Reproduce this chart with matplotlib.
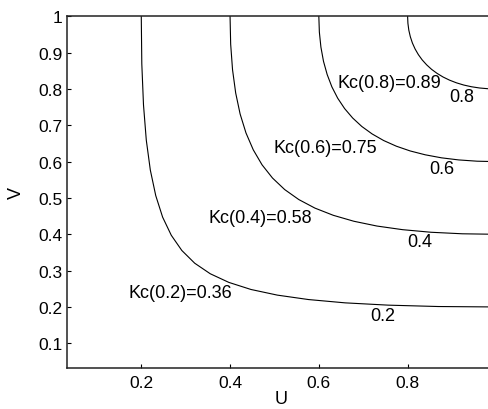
import matplotlib.pyplot as plt

plt.rcParams['font.family'] = ['Liberation Sans', 'DejaVu Sans']

# level curves C(u, v) = t
levels = [0.2, 0.4, 0.6, 0.8]
kc_values = [0.36, 0.58, 0.75, 0.89]

u_02 = [0.2000, 0.2012, 0.2050, 0.2113, 0.2204, 0.2326, 0.2481, 0.2676, 0.2914, 0.3204,
        0.3554, 0.3973, 0.4472, 0.5065, 0.5767, 0.6593, 0.7562, 0.8691, 1.0000]
v_02 = [1.0000, 0.8691, 0.7562, 0.6593, 0.5767, 0.5065, 0.4472, 0.3973, 0.3554, 0.3204,
        0.2914, 0.2676, 0.2481, 0.2326, 0.2204, 0.2113, 0.2050, 0.2012, 0.2000]

u_04 = [0.4000, 0.4014, 0.4056, 0.4127, 0.4227, 0.4359, 0.4523, 0.4721, 0.4956, 0.5231,
        0.5549, 0.5912, 0.6325, 0.6789, 0.7310, 0.7889, 0.8529, 0.9232, 1.0000]
v_04 = [1.0000, 0.9232, 0.8529, 0.7889, 0.7310, 0.6789, 0.6325, 0.5912, 0.5549, 0.5231,
        0.4956, 0.4721, 0.4523, 0.4359, 0.4227, 0.4127, 0.4056, 0.4014, 0.4000]

u_06 = [0.6000, 0.6012, 0.6047, 0.6105, 0.6188, 0.6294, 0.6425, 0.6581, 0.6762, 0.6968,
        0.7201, 0.7460, 0.7746, 0.8058, 0.8397, 0.8762, 0.9151, 0.9565, 1.0000]
v_06 = [1.0000, 0.9565, 0.9151, 0.8762, 0.8397, 0.8058, 0.7746, 0.7460, 0.7201, 0.6968,
        0.6762, 0.6581, 0.6425, 0.6294, 0.6188, 0.6105, 0.6047, 0.6012, 0.6000]

u_08 = [0.8000, 0.8007, 0.8027, 0.8061, 0.8108, 0.8169, 0.8243, 0.8329, 0.8429, 0.8540,
        0.8664, 0.8799, 0.8944, 0.9100, 0.9265, 0.9439, 0.9620, 0.9807, 1.0000]
v_08 = [1.0000, 0.9807, 0.9620, 0.9439, 0.9265, 0.9100, 0.8944, 0.8799, 0.8664, 0.8540,
        0.8429, 0.8329, 0.8243, 0.8169, 0.8108, 0.8061, 0.8027, 0.8007, 0.8000]

x_ticks = [0.2, 0.4, 0.6, 0.8]
x_tick_labels = ['0.2', '0.4', '0.6', '0.8']
y_ticks = [0.1, 0.2, 0.3, 0.4, 0.5, 0.6, 0.7, 0.8, 0.9, 1.0]
y_tick_labels = ['0.1', '0.2', '0.3', '0.4', '0.5', '0.6', '0.7', '0.8', '0.9', '1']

# where the labels sit (data coords)
level_label_pos = [(0.743, 0.176), (0.827, 0.381), (0.876, 0.580), (0.923, 0.780)]
kc_label_pos = [(0.287, 0.240), (0.468, 0.445), (0.614, 0.639), (0.759, 0.818)]

fig = plt.figure(figsize=(4.89, 4.10), dpi=100)
# the right side of the axes runs past the image edge, as in the reference crop
ax = fig.add_axes([0.1364, 0.1, 0.8787, 0.8578])

curves = [(u_02, v_02), (u_04, v_04), (u_06, v_06), (u_08, v_08)]
for (u, v) in curves:
    ax.plot(u, v, color='black', lw=0.8)

for t, (x, y) in zip(levels, level_label_pos):
    ax.text(x, y, '%g' % t, ha='center', va='center', fontsize=13)

for t, k, (x, y) in zip(levels, kc_values, kc_label_pos):
    ax.text(x, y, 'Kc(%g)=%g' % (t, k), ha='center', va='center', fontsize=13)

ax.set_xlim(0.032, 1.0)
ax.set_ylim(0.032, 1.0)
ax.set_xticks(x_ticks)
ax.set_xticklabels(x_tick_labels)
ax.set_yticks(y_ticks)
ax.set_yticklabels(y_tick_labels)
ax.tick_params(direction='in', length=3, width=0.8, labelsize=12.5, colors='black')
ax.tick_params(axis='x', pad=5)
ax.tick_params(axis='y', pad=3)
for s in ax.spines.values():
    s.set_linewidth(1.1)
    s.set_color('#222222')

ax.set_xlabel('U', fontsize=13)
ax.set_ylabel('V', fontsize=13)
ax.xaxis.label.set_va('center')
ax.yaxis.label.set_va('center')
ax.xaxis.set_label_coords(0.5, -0.087)
ax.yaxis.set_label_coords(-0.116, 0.5)

fig.savefig('out.png', dpi=100)
